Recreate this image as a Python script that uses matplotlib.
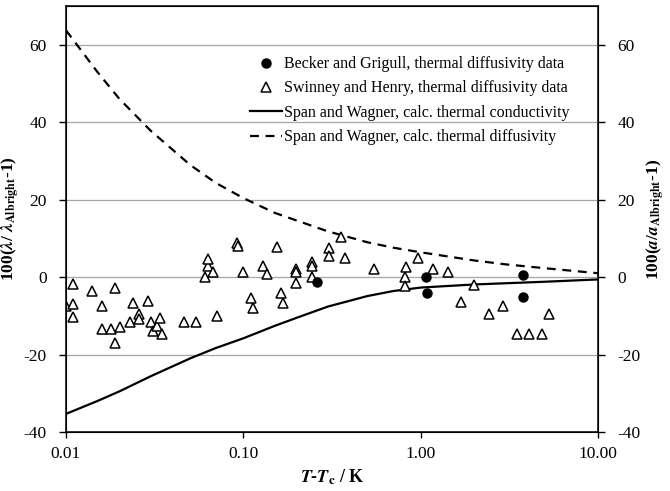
import matplotlib
matplotlib.use("Agg")
import matplotlib.pyplot as plt
import numpy as np
from matplotlib.ticker import FixedLocator, FixedFormatter, NullLocator

plt.rcParams['font.family'] = ['Liberation Serif', 'DejaVu Serif']
plt.rcParams['mathtext.fontset'] = 'stix'
plt.rcParams['axes.unicode_minus'] = False

# Swinney and Henry, thermal diffusivity data
sh_dT = [0.0100, 0.0110, 0.0110, 0.0110, 0.0140, 0.0159, 0.0159, 0.0179, 0.0189, 0.0189,
         0.0201, 0.0229, 0.0240, 0.0259, 0.0259, 0.0290, 0.0302, 0.0310, 0.0325, 0.0339,
         0.0348, 0.0465, 0.0541, 0.0607, 0.0631, 0.0631, 0.0678, 0.0713, 0.0920, 0.0928,
         0.0996, 0.111, 0.113, 0.129, 0.136, 0.154, 0.163, 0.168, 0.198, 0.198,
         0.198, 0.243, 0.243, 0.243, 0.303, 0.303, 0.356, 0.373, 0.543, 0.819,
         0.832, 0.819, 0.969, 1.18, 1.42, 1.69, 1.99, 2.43, 2.93, 3.48,
         4.11, 4.86, 5.31]
sh_dev = [-7.4, -1.8, -7.0, -10.3, -3.5, -7.4, -13.5, -13.5, -2.9, -16.9,
          -13.0, -11.5, -6.6, -9.6, -10.9, -6.1, -11.7, -13.9, -12.6, -10.6,
          -14.6, -11.5, -11.5, 0.0, 2.9, 4.7, 1.2, -10.0, 8.8, 8.1,
          1.2, -5.5, -7.9, 2.9, 0.8, 7.7, -4.0, -6.6, 2.1, 1.2,
          -1.6, 3.8, 2.9, 0.0, 7.5, 5.5, 10.3, 4.9, 2.1, 0.0,
          2.7, -2.2, 4.9, 2.1, 1.2, -6.3, -2.1, -9.6, -7.4, -14.6,
          -14.6, -14.6, -9.6]

# Becker and Grigull, thermal diffusivity data
bg_dT = [0.261, 1.07, 1.08, 3.77, 3.77]
bg_dev = [-1.2, -0.1, -4.0, 0.6, -5.1]

# Span and Wagner, calc. thermal conductivity
cond_dT = [0.01, 0.015, 0.02, 0.03, 0.05, 0.07, 0.1, 0.15, 0.2, 0.3, 0.5, 0.7, 1.0, 2.0, 5.0, 10.0]
cond_dev = [-35.3, -32.0, -29.5, -25.6, -21.0, -18.3, -15.8, -12.6, -10.5, -7.6, -4.9, -3.6, -2.7, -1.9, -1.2, -0.6]

# Span and Wagner, calc. thermal diffusivity
diff_dT = [0.01, 0.015, 0.02, 0.03, 0.05, 0.07, 0.1, 0.15, 0.2, 0.3, 0.5, 0.7, 1.0, 2.0, 3.0, 5.0, 10.0]
diff_dev = [63.7, 53.0, 46.0, 37.8, 29.0, 24.3, 20.4, 16.6, 14.6, 11.8, 9.0, 7.6, 6.4, 4.3, 3.3, 2.3, 1.0]

fig = plt.figure(figsize=(6.70, 4.91), dpi=100)
ax = fig.add_axes([0.0985, 0.120, 0.794, 0.868])

ax.plot(bg_dT, bg_dev, 'o', color='black', markersize=6.5, label='Becker and Grigull, thermal diffusivity data', zorder=4)
ax.plot(sh_dT, sh_dev, '^', mfc='white', mec='black', mew=1.1, markersize=7.5, label='Swinney and Henry, thermal diffusivity data', zorder=3)
ax.plot(cond_dT, cond_dev, '-', color='black', lw=1.6, label='Span and Wagner, calc. thermal conductivity', zorder=2)
ax.plot(diff_dT, diff_dev, '--', color='black', lw=1.6, dashes=(4, 3), label='Span and Wagner, calc. thermal diffusivity', zorder=2)

ax.set_xscale('log')
ax.set_xlim(0.01, 10)
ax.set_ylim(-40, 70)
xt = [0.01, 0.1, 1, 10]
ax.xaxis.set_major_locator(FixedLocator(xt))
ax.xaxis.set_major_formatter(FixedFormatter(['0.01', '0.10', '1.00', '10.00']))
ax.xaxis.set_minor_locator(NullLocator())
yt = [-40, -20, 0, 20, 40, 60]
ax.set_yticks(yt)
ax.yaxis.grid(True, color='#a6a6a6', lw=0.9)
ax.set_axisbelow(True)
ax.tick_params(axis='x', labelsize=12.5, direction='out', length=4, width=1, pad=6)
ax.tick_params(axis='y', labelsize=12.5, direction='out', length=5, width=1, pad=9)
for s in ax.spines.values():
    s.set_linewidth(1.1)

ax2 = ax.twinx()
ax2.set_ylim(-40, 70)
ax2.set_yticks(yt)
ax2.tick_params(labelsize=12.5, direction='out', length=5, width=1, pad=9)

ax.set_xlabel(r'$\mathbfit{T}$-$\mathbfit{T}_\mathbf{c}$ / K', fontsize=13, fontweight='bold', labelpad=4)
ax.set_ylabel(r'100($\mathbfit{\lambda}$/ $\mathbfit{\lambda}_\mathbf{Albright}$-1)', fontsize=12.5, fontweight='bold')
ax2.set_ylabel(r'100($\mathbfit{a}$/$\mathbfit{a}_\mathbf{Albright}$-1)', fontsize=12.5, fontweight='bold')
ax.yaxis.set_label_coords(-0.082, 0.5)
ax2.yaxis.set_label_coords(1.087, 0.5)

ax.legend(loc='upper left', bbox_to_anchor=(0.334, 0.897), frameon=False, fontsize=11.5,
          handlelength=2.0, handletextpad=0.15, labelspacing=0.52, borderaxespad=0)

fig.savefig('out.png', dpi=100)
